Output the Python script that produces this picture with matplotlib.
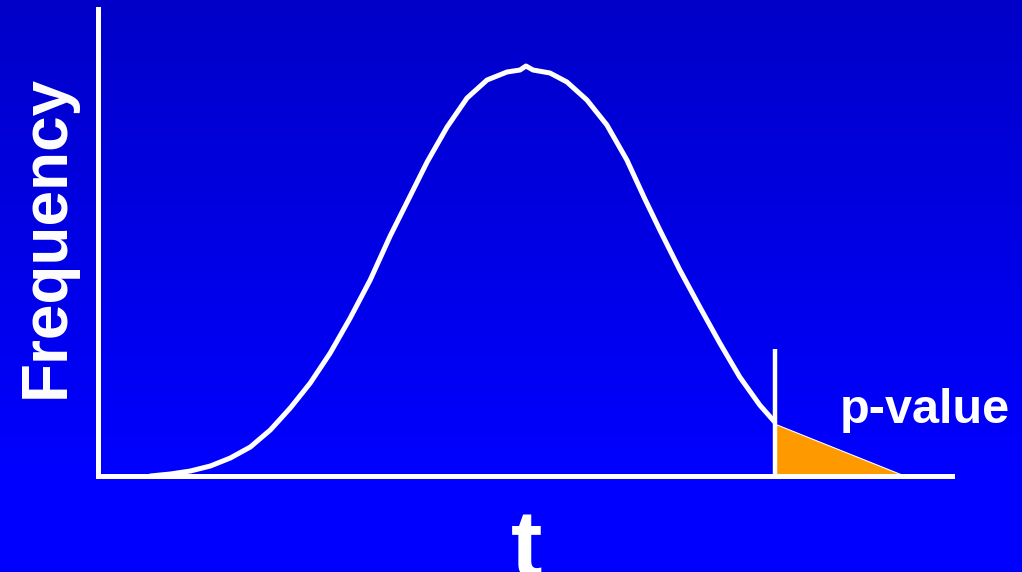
import numpy as np
import matplotlib.pyplot as plt

# curve (t units, frequency as density)
t_vals = [-3.00, -2.84, -2.68, -2.52, -2.36, -2.20, -2.04, -1.88, -1.72, -1.56,
          -1.40, -1.24, -1.08, -0.944, -0.784, -0.624, -0.464, -0.304, -0.144, -0.04,
          0.008, 0.064, 0.20, 0.336, 0.496, 0.656, 0.816, 0.96, 1.08, 1.24,
          1.40, 1.56, 1.72, 1.88, 2.00]
freq_vals = [0.000, 0.002, 0.005, 0.010, 0.018, 0.029, 0.046, 0.068, 0.093, 0.123,
             0.158, 0.196, 0.240, 0.274, 0.314, 0.349, 0.378, 0.396, 0.404, 0.406,
             0.410, 0.406, 0.403, 0.394, 0.376, 0.351, 0.316, 0.277, 0.246, 0.206,
             0.169, 0.133, 0.099, 0.071, 0.054]

# critical value and the shaded tail (p-value)
t_crit = 2.0
crit_top = 0.127
tail_t = [2.0, 3.04, 2.0]
tail_f = [0.052, 0.0, 0.0]

W, H = 1022, 572
fig = plt.figure(figsize=(W / 100, H / 100), dpi=100)

# background gradient, darker blue at the top
bg = fig.add_axes([0, 0, 1, 1])
rows = np.linspace(0, 1, 200)
blue = np.clip(200 + 55 * rows / 0.82, 0, 255) / 255
img = np.zeros((200, 1, 3))
img[:, 0, 2] = blue
bg.imshow(img, aspect="auto", extent=[0, 1, 1, 0])
bg.set_axis_off()

# axes placed so the spines sit where the drawn axes are
left, right = 98 / W, 952 / W
bottom, top = (H - 476) / H, (H - 9) / H
ax = fig.add_axes([left, bottom, right - left, top - bottom])
ax.patch.set_alpha(0)
ax.set_xlim(-3.42, 3.42)
ax.set_ylim(0, 0.467)
for side in ["top", "right"]:
    ax.spines[side].set_visible(False)
for side in ["left", "bottom"]:
    ax.spines[side].set_color("white")
    ax.spines[side].set_linewidth(3.6)
    ax.spines[side].set_capstyle("projecting")
ax.set_xticks([])
ax.set_yticks([])

ax.fill(tail_t, tail_f, color="#FF9900", zorder=2, lw=0)
ax.plot(tail_t[:2], tail_f[:2], color="white", lw=0.8, zorder=3)
ax.plot(t_vals, freq_vals, color="white", lw=3.6, zorder=4,
        solid_capstyle="round", solid_joinstyle="round", clip_on=False)
ax.vlines(t_crit, 0, crit_top, color="white", lw=3.2, zorder=5)

font = ["Liberation Sans", "DejaVu Sans"]
fig.text(925 / W, 1 - 423 / H, "p-value", color="white", fontsize=35,
         fontweight="bold", family=font, ha="center", va="baseline")
fig.text(47 / W, 1 - 236 / H, "Frequency", color="white", fontsize=46,
         fontweight="bold", family=font, rotation=90, ha="center", va="center")
fig.text(527 / W, 1 - 507 / H, "t", color="white", fontsize=68,
         fontweight="bold", family=font, ha="center", va="top")

fig.savefig("out.png", dpi=100)
